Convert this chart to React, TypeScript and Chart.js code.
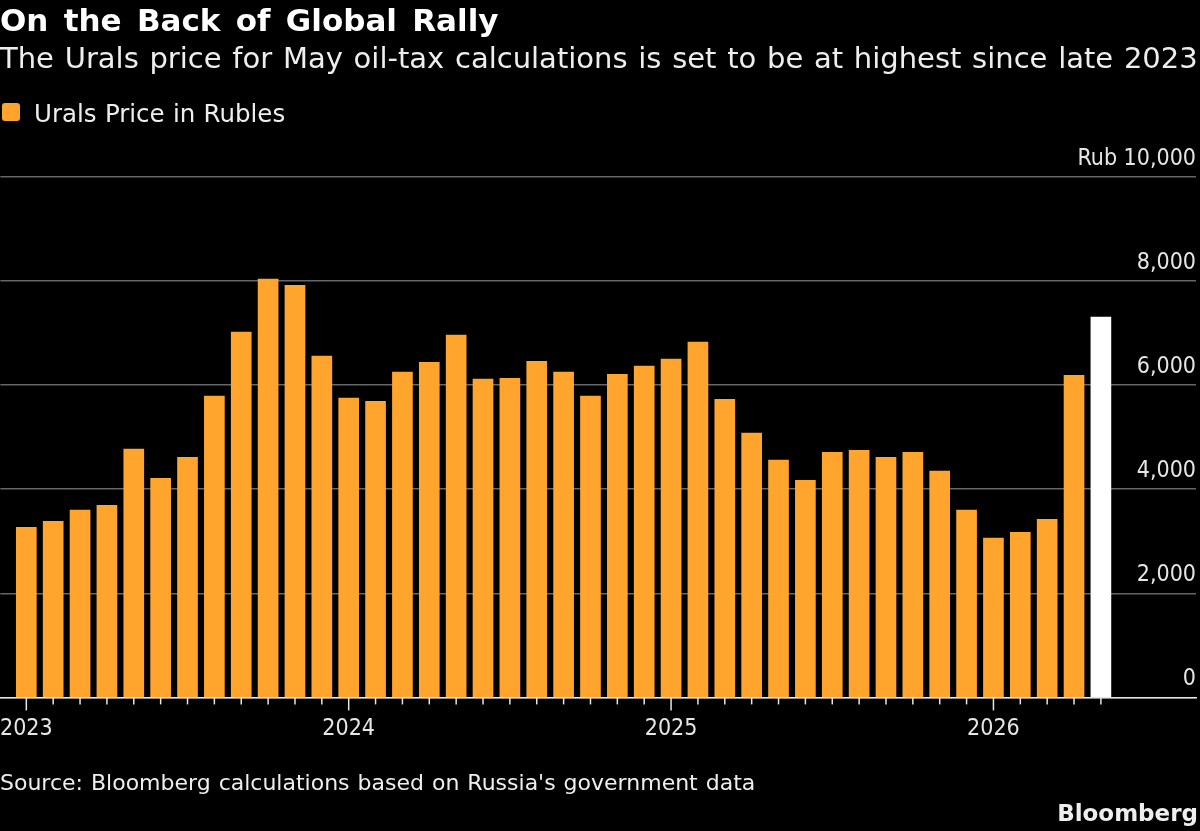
import { useEffect, useRef } from "react";
import Chart from "chart.js/auto";

const titleText = "On the Back of Global Rally";
const subtitleText = "The Urals price for May oil-tax calculations is set to be at highest since late 2023";
const seriesName = "Urals Price in Rubles";
const sourceText = "Source: Bloomberg calculations based on Russia's government data";

// monthly, Jan 2023 to Apr 2026
const uralsPrice = [
  3270, 3385, 3600, 3690, 4770, 4210, 4615, 5790, 7020, 8040, 7920, 6560,
  5750, 5690, 6250, 6440, 6960, 6115, 6130, 6460, 6250, 5790, 6210, 6365,
  6500, 6830, 5730, 5080, 4560, 4170, 4710, 4750, 4615, 4710, 4350, 3600,
  3060, 3170, 3420, 6190,
];
// May 2026, highlighted
const latestPrice = 7310;
const yearLabels: Record<number, string> = { 0: "2023", 12: "2024", 24: "2025", 36: "2026" };
const yTicks = [0, 2000, 4000, 6000, 8000, 10000];

const FONT = "'DejaVu Sans', sans-serif";
const TICK_FONT = "'DejaVu Sans Condensed', 'DejaVu Sans', sans-serif";

const monthTicks = {
  id: "monthTicks",
  afterDraw(chart: any) {
    const { ctx, scales } = chart;
    const x = scales.x;
    ctx.save();
    ctx.strokeStyle = "#e6e6e6";
    ctx.lineWidth = 1.5;
    for (let i = 0; i <= uralsPrice.length; i++) {
      const px = x.getPixelForValue(i);
      ctx.beginPath();
      ctx.moveTo(px, x.top);
      ctx.lineTo(px, x.top + (yearLabels[i] ? 13 : 7));
      ctx.stroke();
    }
    ctx.restore();
  },
};

export default function App() {
  const canvasRef = useRef<HTMLCanvasElement>(null);

  useEffect(() => {
    if (!canvasRef.current) return;

    const chart = new Chart(canvasRef.current, {
      type: "bar",
      data: {
        datasets: [
          {
            label: seriesName,
            data: uralsPrice.map((y, x) => ({ x, y })),
            backgroundColor: "#ffa52e",
          },
          {
            label: "Latest",
            data: [{ x: uralsPrice.length, y: latestPrice }],
            backgroundColor: "#ffffff",
          },
        ],
      },
      options: {
        animation: false,
        responsive: false,
        devicePixelRatio: 1,
        layout: { autoPadding: false, padding: { top: 177, right: 4, left: 0, bottom: 88 } },
        datasets: { bar: { grouped: false, barThickness: 20 } },
        plugins: { legend: { display: false }, tooltip: { enabled: false } },
        scales: {
          x: {
            type: "linear",
            offset: false,
            min: -0.967,
            max: 43.54,
            afterBuildTicks: (scale: any) => {
              scale.ticks = Object.keys(yearLabels).map((v) => ({ value: Number(v) }));
            },
            ticks: {
              autoSkip: false,
              maxRotation: 0,
              padding: 0,
              color: "#e6e6e6",
              font: { family: TICK_FONT, size: 23 },
              callback: (v: any) => yearLabels[v] ?? "",
            },
            // ticks are drawn by monthTicks, this only keeps the gap above the labels
            grid: { drawOnChartArea: false, tickLength: 18, tickColor: "transparent", offset: false },
            border: { color: "#e6e6e6", width: 1.5 },
          },
          y: {
            position: "right",
            min: 0,
            max: 10000,
            afterBuildTicks: (scale: any) => {
              scale.ticks = yTicks.map((value) => ({ value }));
            },
            ticks: {
              mirror: true,
              padding: 0,
              labelOffset: -18,
              color: "#e6e6e6",
              font: { family: TICK_FONT, size: 23 },
              callback: (v: any) =>
                v === 10000 ? "Rub 10,000" : Number(v).toLocaleString("en-US"),
            },
            grid: { color: "#666666", lineWidth: 1.5, drawTicks: false },
            border: { display: false },
          },
        },
      },
      plugins: [monthTicks],
    } as any);

    return () => chart.destroy();
  }, []);

  const text = { position: "absolute", left: 0, whiteSpace: "nowrap", fontFamily: FONT, color: "#eeeeee" } as const;

  return (
    <div style={{ position: "fixed", left: 0, top: 0, width: 1200, height: 831, background: "#000", overflow: "hidden" }}>
      <canvas ref={canvasRef} width={1200} height={831} style={{ position: "absolute", left: 0, top: 0 }} />
      <div style={{ ...text, top: 2, fontSize: 31, fontWeight: 700, color: "#fff", wordSpacing: 4.5 }}>{titleText}</div>
      <div style={{ ...text, top: 41, fontSize: 29, wordSpacing: 1.5 }}>{subtitleText}</div>
      <div style={{ position: "absolute", left: 2, top: 103, width: 18, height: 18, borderRadius: 3, background: "#ffa52e" }} />
      <div style={{ ...text, left: 34, top: 99, fontSize: 24.5, wordSpacing: 0.5 }}>{seriesName}</div>
      <div style={{ ...text, top: 770, fontSize: 22, wordSpacing: 1 }}>{sourceText}</div>
      <div style={{ ...text, left: "auto", right: 2, top: 800, fontSize: 23, fontWeight: 700 }}>Bloomberg</div>
    </div>
  );
}
